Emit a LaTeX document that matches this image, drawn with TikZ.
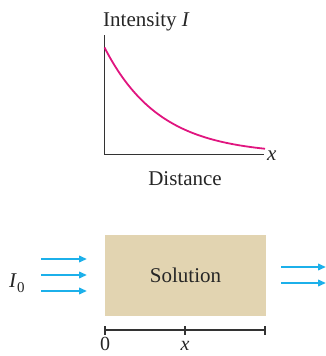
\documentclass[tikz,border=0pt]{standalone}
\usepackage{fontspec}
\setmainfont{Liberation Serif}
\usetikzlibrary{arrows.meta}
\definecolor{axisgray}{HTML}{333333}
\definecolor{curvemag}{HTML}{E0157F}
\definecolor{beamcyan}{HTML}{1CB0EA}
\definecolor{soltan}{HTML}{E2D4B1}
\tikzset{
  axisline/.style={draw=axisgray,line width=1.3pt},
  beam/.style={draw=beamcyan,line width=2.2pt,-{Triangle[length=8pt,width=6.5pt]}},
  lbl/.style={font=\fontsize{21}{24}\selectfont,inner sep=0pt,text=black!85},
}
\begin{document}
\begin{tikzpicture}[x=1pt,y=-1pt]
\useasboundingbox (0,0) rectangle (326,356);
% graph
\coordinate (top) at (104.5,35);
\coordinate (origin) at (104.5,154.5);
\coordinate (xend) at (264,154.5);
\draw[axisline] (top) -- (origin) -- (xend);
\draw[curvemag,line width=1.8pt] plot[domain=0:160.5,samples=80] ({104.5+\x},{154.5-107*exp(-0.0182*\x)});
\node[lbl,anchor=base west] (ylab) at (103,27) {Intensity \textit{I}};
\node[lbl,anchor=west] (xlab) at (267,156) {\textit{x}};
\node[lbl] (dist) at (185,179) {Distance};
% solution
\node[fill=soltan,minimum width=160.7pt,minimum height=80.7pt,inner sep=0pt,anchor=north west,lbl] (sol) at (105,235) {};
\node[lbl] (soltext) at (sol.center) {Solution};
% incoming beams
\node[lbl,anchor=base west] (i0) at (9,287) {\textit{I}\raisebox{-0.25em}{\fontsize{15}{17}\selectfont 0}};
\foreach \y/\n in {259/a,275/b,291/c}{
  \coordinate (in\n s) at (41,\y);
  \coordinate (in\n e) at (87,\y);
  \draw[beam] (in\n s) -- (in\n e);
}
\foreach \y/\n in {267/a,283/b}{
  \coordinate (out\n s) at (281,\y);
  \coordinate (out\n e) at (326,\y);
  \draw[beam] (out\n s) -- (out\n e);
}
% scale bar
\coordinate (s0) at (105,330);
\coordinate (sx) at (185,330);
\coordinate (s1) at (265,330);
\draw[axisline] (s0) -- (s1);
\foreach \p in {s0,sx,s1}{
  \draw[axisline] ([yshift=-4.5pt]\p) -- ([yshift=4.5pt]\p);
}
\node[lbl,anchor=base,font=\fontsize{20}{23}\selectfont] (zero) at (105,350.5) {0};
\node[lbl,anchor=base,font=\fontsize{20}{23}\selectfont] (xx) at (185,350.5) {\textit{x}};
\end{tikzpicture}
\end{document}
